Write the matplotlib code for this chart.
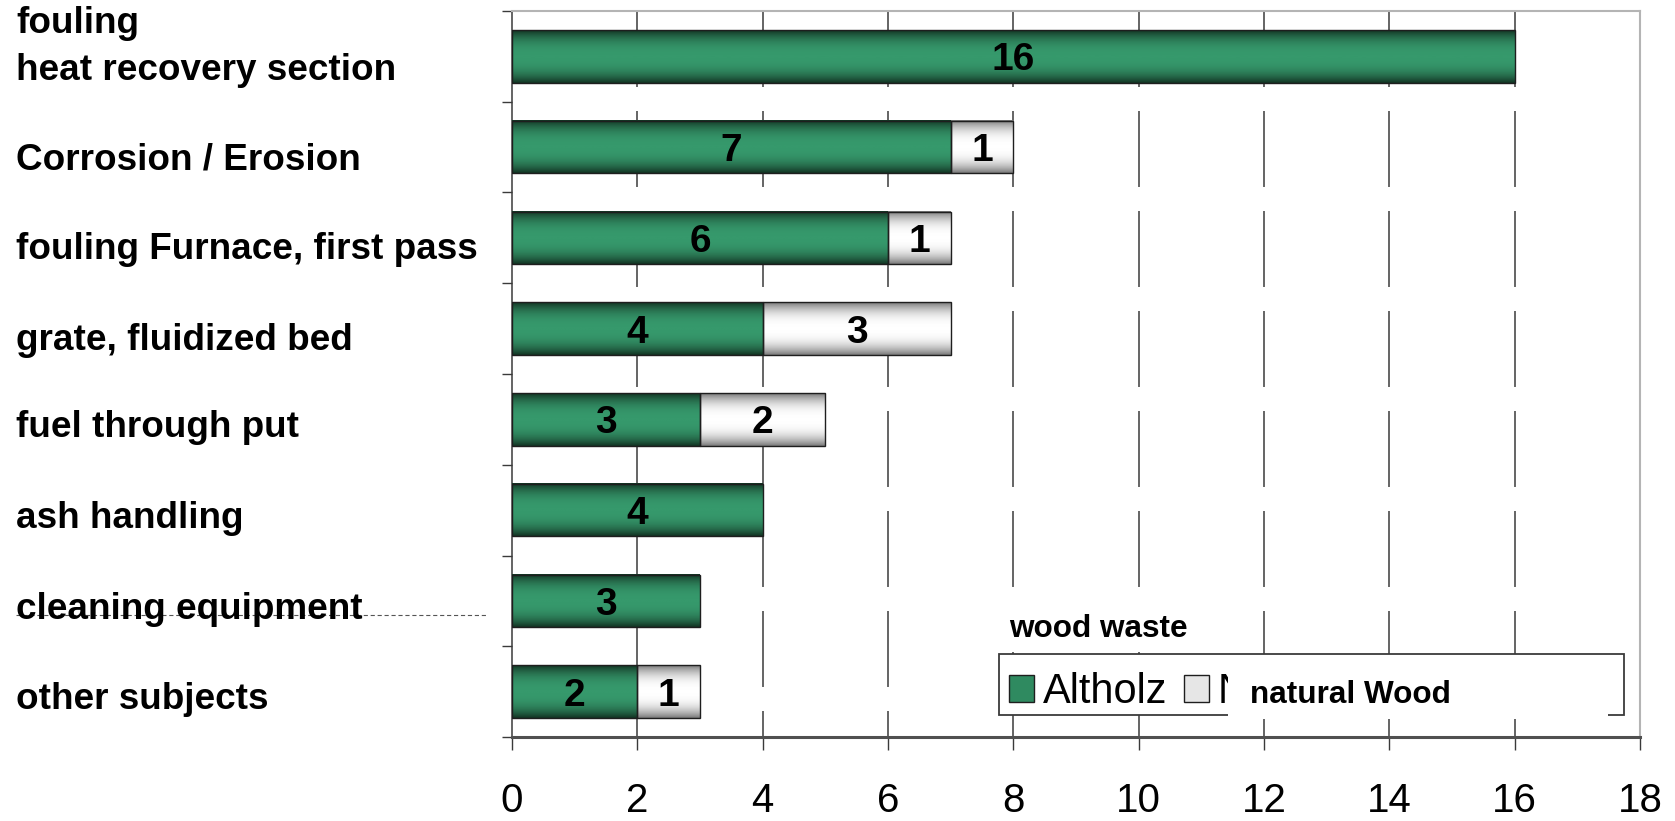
import numpy as np
import matplotlib.pyplot as plt
from matplotlib import transforms, font_manager
from matplotlib.colors import LinearSegmentedColormap
from matplotlib.patches import Patch, Rectangle
from matplotlib.lines import Line2D

categories = ['fouling\nheat recovery section', 'Corrosion / Erosion',
              'fouling Furnace, first pass', 'grate, fluidized bed',
              'fuel through put', 'ash handling', 'cleaning equipment',
              'other subjects']
altholz = [16, 7, 6, 4, 3, 4, 3, 2]        # wood waste
naturholz = [0, 1, 1, 3, 2, 0, 0, 1]       # natural wood
xticks = [0, 2, 4, 6, 8, 10, 12, 14, 16, 18]

names = {f.name for f in font_manager.fontManager.ttflist}
narrow = 'Liberation Sans Narrow' if 'Liberation Sans Narrow' in names else 'Liberation Sans'
bold = 'Liberation Sans'

W, H = 1675, 821
fig = plt.figure(figsize=(W / 100, H / 100), dpi=100)
fig.patch.set_facecolor('white')
ax = fig.add_axes([512 / W, (H - 737) / H, 1128 / W, 726 / H])


def fx(x):
    return x / W


def fy(y):
    return 1 - y / H


y = np.arange(len(categories))
bar_h = 0.58

t = np.linspace(0, 1, 80)
shade = 1 - np.abs(2 * t - 1) ** 2.5
green_cm = LinearSegmentedColormap.from_list('g', ['#133524', '#36996c'])
white_cm = LinearSegmentedColormap.from_list('w', ['#7a7a7a', '#ffffff'])


def shaded_bars(vals, left, cmap):
    bars = ax.barh(y, vals, left=left, height=bar_h, facecolor='none',
                   edgecolor='#1e1e1e', lw=1.0, zorder=4)
    for p, v, l in zip(bars, vals, left):
        if v == 0:
            p.set_visible(False)
            continue
        x0, y0 = p.get_x(), p.get_y()
        ax.imshow(shade[:, None], cmap=cmap, vmin=0, vmax=1, aspect='auto',
                  extent=(x0, x0 + p.get_width(), y0 + p.get_height(), y0),
                  interpolation='bilinear', zorder=3)
        tr = transforms.offset_copy(ax.transData, fig=fig, y=-10, units='points')
        ax.text(l + v / 2, p.get_y() + p.get_height() / 2, str(v), transform=tr,
                ha='center', va='baseline', fontsize=28, fontweight='bold',
                family=narrow, zorder=5)
    return bars


shaded_bars(altholz, [0] * len(altholz), green_cm)
shaded_bars(naturholz, altholz, white_cm)

ax.set_xlim(0, 18)
ax.set_ylim(len(categories) - 0.5, -0.5)

# dashed vertical gridlines, drawn from the top down
plt.rcParams['lines.scale_dashes'] = False
for xv in xticks[1:-1]:
    ax.plot([xv, xv], [1, 0], transform=ax.get_xaxis_transform(), color='#3a3a3a',
            lw=1.1, dashes=(54.7, 17.3), zorder=1)

ax.set_xticks(xticks)
ax.set_xticklabels([str(v) for v in xticks], fontsize=29, family=narrow)
ax.tick_params(axis='x', direction='out', length=9.5, width=1.0, color='#3a3a3a', pad=23)
ax.set_yticks(np.arange(-0.5, len(categories), 1))
ax.set_yticklabels([])
ax.tick_params(axis='y', direction='out', length=7.5, width=1.0, color='#3a3a3a')

ax.spines['left'].set_color('#3a3a3a')
ax.spines['left'].set_linewidth(1.1)
ax.spines['bottom'].set_color('#505050')
ax.spines['bottom'].set_linewidth(2.2)
for s in ['top', 'right']:
    ax.spines[s].set_color('#b4b4b4')
    ax.spines[s].set_linewidth(1.5)

# category labels on the left
lab_tr = transforms.blended_transform_factory(fig.transFigure, ax.transData)
offsets = [-0.106, 0.147, 0.127, 0.127, 0.093, 0.093, 0.097, 0.083]
for i, (c, off) in enumerate(zip(categories, offsets)):
    ax.text(fx(16), i + off, c, transform=lab_tr, ha='left', va='center',
            fontsize=26.6, fontweight='bold', family=bold, linespacing=1.43,
            clip_on=False)

# leftover dotted line next to "cleaning equipment"
ax.add_line(Line2D([fx(16), fx(488)], [fy(615), fy(615)], transform=fig.transFigure,
                   color='#555555', lw=0.8, dashes=(3, 2), clip_on=False, zorder=0))

# legend box
ax.add_patch(Rectangle((fx(999), fy(715)), fx(1624) - fx(999), fy(654) - fy(715),
                       transform=fig.transFigure, facecolor='white', edgecolor='#3a3a3a',
                       lw=1.3, zorder=6, clip_on=False))
handles = [Patch(facecolor='#2f8a60', edgecolor='#1e1e1e'),
           Patch(facecolor='#e6e6e6', edgecolor='#1e1e1e')]
leg = ax.legend(handles, ['Altholz', 'Naturholz'], ncol=2, frameon=False,
                loc='center left', bbox_to_anchor=(fx(999), fy(692)),
                bbox_transform=fig.transFigure, borderaxespad=0, borderpad=0.25,
                handlelength=0.6, handleheight=0.6, handletextpad=0.2,
                columnspacing=0.4, prop={'family': narrow, 'size': 30})
leg.set_zorder(7)

# overlays put on top of the chart
fig.patches.append(Rectangle((fx(983), fy(652)), fx(1207) - fx(983), fy(593) - fy(652),
                             transform=fig.transFigure, facecolor='white',
                             edgecolor='none', zorder=2))
fig.text(fx(1009), fy(629), 'wood waste', ha='left', va='center', fontsize=22.7,
         fontweight='bold', family=bold, zorder=3)
fig.patches.append(Rectangle((fx(1228), fy(719)), fx(1608) - fx(1228), fy(667) - fy(719),
                             transform=fig.transFigure, facecolor='white',
                             edgecolor='none', zorder=2))
fig.text(fx(1250), fy(695), 'natural Wood', ha='left', va='center', fontsize=22.7,
         fontweight='bold', family=bold, zorder=3)

plt.savefig('out.png', dpi=100)
